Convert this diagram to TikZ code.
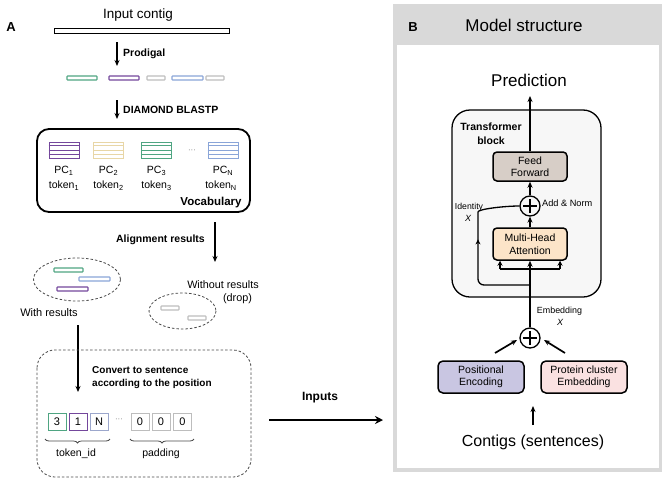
\documentclass[tikz,border=0pt]{standalone}
\usepackage{fontspec}
\setmainfont{Liberation Sans}
\usetikzlibrary{arrows.meta,decorations.pathreplacing,decorations.markings,calc}
\definecolor{cgreen}{HTML}{4FA582}
\definecolor{cpurple}{HTML}{74479C}
\definecolor{cgray}{HTML}{BDBDBD}
\definecolor{cblue}{HTML}{8AA5D8}
\definecolor{cyellow}{HTML}{E8D6A6}
\definecolor{cnblue}{HTML}{9CA7CC}
\definecolor{ffill}{HTML}{D7CEC7}
\definecolor{mhafill}{HTML}{FCE4C8}
\definecolor{pefill}{HTML}{C9C6E2}
\definecolor{pcefill}{HTML}{FAE1E1}
\definecolor{panelgray}{HTML}{D9D9D9}
\definecolor{blockfill}{HTML}{F7F7F7}
\definecolor{dashgray}{HTML}{4A4A4A}
\newcommand{\fs}[1]{\fontsize{#1}{#1}\selectfont}
\begin{document}
\begin{tikzpicture}[x=1pt,y=-1pt,
  arrA/.style={line width=1.3pt,-{Stealth[length=6pt,width=5pt]}},
  arrB/.style={line width=1.7pt,-{Stealth[length=6pt,width=5pt]}},
  genebar/.style={draw=#1,line width=1.1pt,minimum height=4pt,inner sep=0pt,rounded corners=0.6pt},
  pcicon/.style={draw=#1,line width=1pt,minimum width=30pt,minimum height=16pt,inner sep=0pt},
  tokbox/.style={draw=#1,line width=1pt,minimum width=18pt,minimum height=17pt,inner sep=0pt,font=\fs{11}},
  lab/.style={font=\fs{10.5},inner sep=0pt},
  blab/.style={font=\bfseries\fs{10.5},inner sep=0pt},
  dellipse/.style={draw=dashgray,line width=0.8pt,dash pattern=on 2.5pt off 2pt},
  mbox/.style={draw,line width=1.5pt,rounded corners=4pt,minimum width=74pt,align=center,font=\fs{10.5},inner sep=0pt},
  ebox/.style={draw,line width=1.5pt,rounded corners=5pt,minimum width=86pt,minimum height=32pt,align=center,font=\fs{10.5},inner sep=0pt},
  oplus/.style={circle,draw,line width=1.3pt,minimum size=20pt,inner sep=0pt,
    path picture={\draw[line width=1.8pt] ([xshift=-7pt]path picture bounding box.center) -- ([xshift=7pt]path picture bounding box.center);
                  \draw[line width=1.8pt] ([yshift=-7pt]path picture bounding box.center) -- ([yshift=7pt]path picture bounding box.center);}},
]
\useasboundingbox (0,0) rectangle (666,482);
\fill[white] (0,0) rectangle (666,482);

% ---------------- Panel A ----------------
\node[font=\bfseries\fs{13},inner sep=0pt] (labA) at (11,27) {A};
\node[font=\fs{13.5},inner sep=0pt] (incontig) at (138,15) {Input contig};
\node[draw,line width=0.9pt,minimum width=175pt,minimum height=4.5pt,inner sep=0pt] (contig) at (141.5,31) {};

\coordinate (prodS) at (117,42);
\coordinate (prodE) at (117,66);
\draw[arrA] (prodS) -- (prodE);
\node[blab,anchor=west] (prodlab) at (123,54) {Prodigal};

\node[genebar=cgreen,minimum width=30pt] (g1) at (82,78) {};
\node[genebar=cpurple,minimum width=30pt] (g2) at (124,78) {};
\node[genebar=cgray,minimum width=18pt] (g3) at (156,78) {};
\node[genebar=cblue,minimum width=31pt] (g4) at (187.5,78) {};
\node[genebar=cgray,minimum width=18pt] (g5) at (215,78) {};

\coordinate (diaS) at (117,100);
\coordinate (diaE) at (117,119);
\draw[arrA] (diaS) -- (diaE);
\node[blab,anchor=west] (dialab) at (123,110) {DIAMOND BLASTP};

% vocabulary box
\draw[line width=1.8pt,rounded corners=12pt] (37,129) rectangle (250,212);
\foreach \nm/\x/\c in {pa/64/cpurple,pb/108.5/cyellow,pc/156.5/cgreen,pd/223/cblue}{
  \node[pcicon=\c] (\nm) at (\x,150) {};
  \foreach \f in {0.25,0.5,0.75}
    \draw[\c,line width=0.9pt] ($(\nm.north west)!\f!(\nm.south west)$) -- ($(\nm.north east)!\f!(\nm.south east)$);
}
\node[font=\fs{8},inner sep=0pt,text=gray] (vdots) at (192,151) {···};
\node[lab] (pc1) at (64,171) {PC\textsubscript{1}};
\node[lab] (tk1) at (64,186) {token\textsubscript{1}};
\node[lab] (pc2) at (108.5,171) {PC\textsubscript{2}};
\node[lab] (tk2) at (108.5,186) {token\textsubscript{2}};
\node[lab] (pc3) at (156.5,171) {PC\textsubscript{3}};
\node[lab] (tk3) at (156.5,186) {token\textsubscript{3}};
\node[lab] (pcn) at (223,171) {PC\textsubscript{N}};
\node[lab] (tkn) at (221,186) {token\textsubscript{N}};
\node[font=\bfseries\fs{11.5},inner sep=0pt] (voc) at (211,203) {Vocabulary};

% alignment
\coordinate (alS) at (215,222);
\coordinate (alE) at (215,262);
\draw[arrA] (alS) -- (alE);
\node[blab,anchor=east] (allab) at (205,240) {Alignment results};

\draw[dellipse] (77,279.5) ellipse [x radius=43.5,y radius=21.5];
\node[genebar=cgreen,minimum width=29pt] (w1) at (68.5,270) {};
\node[genebar=cblue,minimum width=31pt] (w2) at (94.5,279) {};
\node[genebar=cpurple,minimum width=31pt] (w3) at (72.5,289) {};
\node[font=\fs{11},inner sep=0pt] (withres) at (49,313) {With results};

\draw[dellipse] (182.5,311) ellipse [x radius=33.5,y radius=18];
\node[genebar=cgray,minimum width=18pt] (d1) at (170,308) {};
\node[genebar=cgray,minimum width=18pt] (d2) at (197,318) {};
\node[font=\fs{10.8},inner sep=0pt] (wores) at (223,285) {Without results};
\node[font=\fs{10.8},inner sep=0pt] (drop) at (237.5,299) {(drop)};

\coordinate (cvS) at (78,325);
\coordinate (cvE) at (78,392);
\draw[arrA] (cvS) -- (cvE);

% sentence box
\draw[dellipse,rounded corners=18pt] (37,350) rectangle (251,477);
\node[font=\bfseries\fs{10},align=left,anchor=west,inner sep=0pt] (convlab) at (92,377.5) {Convert to sentence\\[3pt]according to the position};

\node[tokbox=cgreen] (t1) at (57,421.5) {3};
\node[tokbox=cpurple] (t2) at (78,421.5) {1};
\node[tokbox=cnblue] (t3) at (99,421.5) {N};
\node[font=\fs{8},inner sep=0pt,text=gray] (tdots) at (119,420) {···};
\node[tokbox=cgray] (t4) at (140,421.5) {0};
\node[tokbox=cgray] (t5) at (161,421.5) {0};
\node[tokbox=cgray] (t6) at (182.5,421.5) {0};

\draw[dashgray,line width=0.8pt,decorate,decoration={brace,mirror,amplitude=4pt}] (45,439) -- (110,439);
\draw[dashgray,line width=0.8pt,decorate,decoration={brace,mirror,amplitude=4pt}] (130,439) -- (194,439);
\node[lab] (tokid) at (76,453.5) {token\_id};
\node[lab] (padd) at (161,453.5) {padding};

% inputs arrow
\node[font=\bfseries\fs{12},inner sep=0pt] (inplab) at (320,398) {Inputs};
\coordinate (inS) at (269,420);
\coordinate (inE) at (383,420);
\draw[line width=2.6pt,-{Stealth[length=8pt,width=8pt]}] (inS) -- (inE);

% ---------------- Panel B ----------------
\fill[panelgray] (393,4) rectangle (662,472);
\fill[white] (397,45) rectangle (659,468);
\node[font=\bfseries\fs{13},inner sep=0pt] (labB) at (413,27) {B};
\node[font=\fs{17},inner sep=0pt] (mstruct) at (524,25) {Model structure};

\node[font=\fs{17},inner sep=0pt] (pred) at (529,80) {Prediction};

\draw[line width=1.3pt,rounded corners=18pt,fill=blockfill] (452,110) rectangle (601,297);
\node[font=\bfseries\fs{10.5},align=center,inner sep=0pt] (tblab) at (491,134) {Transformer\\[3.5pt]block};

\node[mbox,fill=ffill,minimum height=29pt] (ff) at (530,166.5) {Feed\\[1.5pt]Forward};
\node[oplus] (add) at (530,206) {};
\node[font=\fs{9.2},inner sep=0pt,anchor=west] (addlab) at (542,203) {Add \& Norm};
\node[mbox,fill=mhafill,minimum height=32pt] (mha) at (530,244) {Multi-Head\\[2.5pt]Attention};

\node[oplus] (emb) at (530,338) {};
\node[ebox,fill=pefill] (pe) at (481,377) {Positional\\[1pt]Encoding};
\node[ebox,fill=pcefill] (pce) at (584,377) {Protein cluster\\[1pt]Embedding};

\coordinate (predE) at (530,96);
\draw[arrB] (ff.north) -- (predE);
\draw[arrB] (add.north) -- (ff.south);
\draw[arrB] (mha.north) -- (add.south);
\draw[arrB] (emb.north) -- (mha.south);

\coordinate (brL) at (500,269);
\coordinate (brR) at (560,269);
\draw[line width=1.5pt] (brL) -- (brR);
\draw[line width=1.5pt,-{Stealth[length=5pt,width=5pt]}] (brL) -- (brL |- mha.south);
\draw[line width=1.5pt,-{Stealth[length=5pt,width=5pt]}] (brR) -- (brR |- mha.south);

\coordinate (idS) at (530,285);
\coordinate (idC) at (478,285);
\draw[line width=1.3pt,rounded corners=6pt,
  postaction={decorate,decoration={markings,mark=at position 95pt with {\arrow{Stealth[length=5pt,width=5pt]}}}}]
  (idS) -- (idC) -- (478,218) .. controls (478,209) and (505,206) .. (add.west);
\node[font=\fs{8.7},inner sep=0pt] (idlab) at (469,207) {Identity};
\node[font=\itshape\fs{9},inner sep=0pt] (idx) at (468,218.5) {X};

\node[font=\fs{8.9},inner sep=0pt] (emblab) at (559.5,311) {Embedding};
\node[font=\itshape\fs{9},inner sep=0pt] (embx) at (560,322) {X};

\coordinate (peS) at (495,353);
\coordinate (peE) at (517,340);
\coordinate (pceS) at (565,353);
\coordinate (pceE) at (544,340);
\draw[arrB] (peS) -- (peE);
\draw[arrB] (pceS) -- (pceE);

\coordinate (ctS) at (533,425);
\coordinate (ctE) at (533,406);
\draw[arrB] (ctS) -- (ctE);
\node[font=\fs{16},inner sep=0pt] (contigs) at (533,442) {Contigs (sentences)};
\end{tikzpicture}
\end{document}
